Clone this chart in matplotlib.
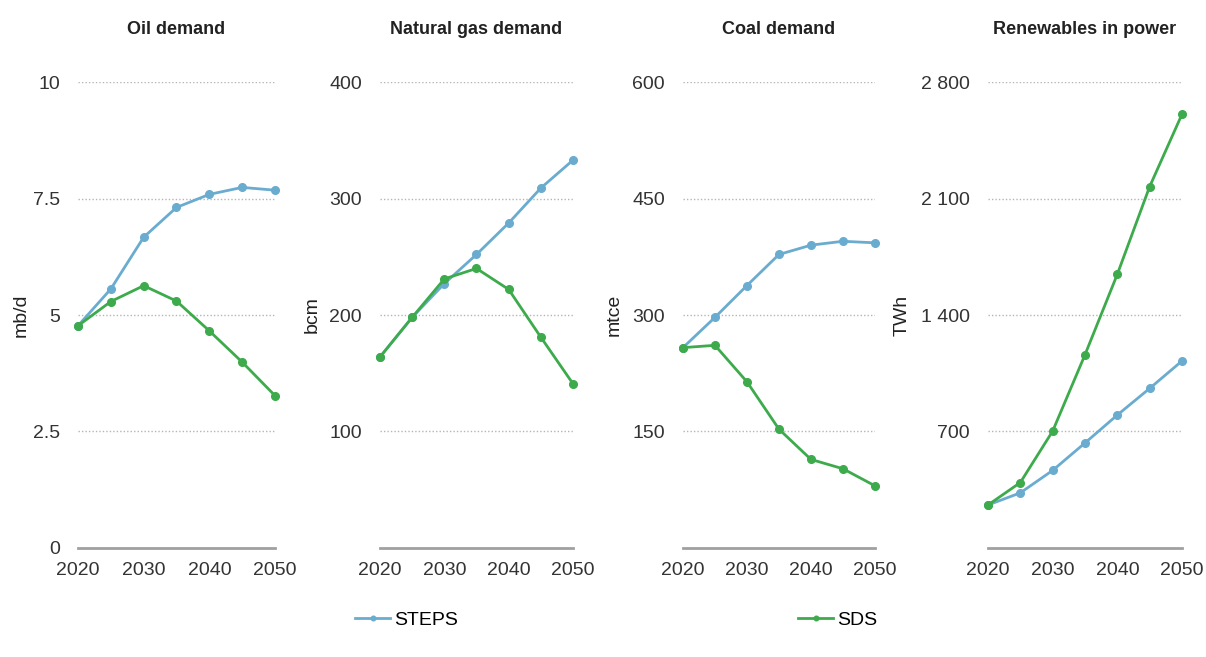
import matplotlib.pyplot as plt
from matplotlib.ticker import FuncFormatter

plt.rcParams.update({
    "font.family": ["Liberation Sans", "DejaVu Sans"],
    "font.size": 13,
})

# ============================================================
# Data
# ============================================================
years = [2020, 2025, 2030, 2035, 2040, 2045, 2050]

oil_steps = [4.77, 5.56, 6.67, 7.31, 7.59, 7.74, 7.68]
oil_sds = [4.77, 5.29, 5.63, 5.30, 4.66, 3.99, 3.27]

gas_steps = [164, 198, 227, 252, 279, 309, 333]
gas_sds = [164, 198, 231, 240, 222, 181, 141]

coal_steps = [258, 297, 338, 378, 390, 395, 393]
coal_sds = [258, 261, 214, 153, 114, 102, 80]

ren_steps = [258, 331, 466, 631, 799, 959, 1124]
ren_sds = [258, 393, 702, 1161, 1645, 2172, 2607]

titles = ["Oil demand", "Natural gas demand", "Coal demand", "Renewables in power"]
units = ["mb/d", "bcm", "mtce", "TWh"]
yticks = [[0, 2.5, 5, 7.5, 10], [100, 200, 300, 400], [150, 300, 450, 600], [700, 1400, 2100, 2800]]
ytops = [10, 400, 600, 2800]
steps_all = [oil_steps, gas_steps, coal_steps, ren_steps]
sds_all = [oil_sds, gas_sds, coal_sds, ren_sds]
xticks = [2020, 2030, 2040, 2050]

STEPS_COLOR = "#6aaccf"
SDS_COLOR = "#3dab4c"

# ============================================================
# Plot
# ============================================================
fig = plt.figure(figsize=(12.06, 6.57), dpi=100)

lefts = [0.0647, 0.3151, 0.5663, 0.8192]
widths = [0.1633, 0.1600, 0.1592, 0.1609]
ylab_x = [-0.244, -0.306, -0.3125, -0.397]


def thousands(v, pos):
    if v == int(v):
        return f"{int(v):,}".replace(",", " ")
    return f"{v:g}"


for i in range(4):
    ax = fig.add_axes([lefts[i], 0.166, widths[i], 0.709])
    ax.plot(years, steps_all[i], color=STEPS_COLOR, lw=2, marker="o", ms=5.5,
            clip_on=False, zorder=3, label="STEPS")
    ax.plot(years, sds_all[i], color=SDS_COLOR, lw=2, marker="o", ms=5.5,
            clip_on=False, zorder=4, label="SDS")

    ax.set_xlim(2020, 2050)
    ax.set_ylim(0, ytops[i])
    ax.set_xticks(xticks)
    ax.set_yticks(yticks[i])
    ax.yaxis.set_major_formatter(FuncFormatter(thousands))

    for t in yticks[i]:
        if t > 0:
            ax.axhline(t, color="#b5b5b5", lw=1, ls=(0, (1, 1.5)), zorder=1)

    for s in ["top", "right", "left"]:
        ax.spines[s].set_visible(False)
    ax.spines["bottom"].set_color("#a0a0a0")
    ax.spines["bottom"].set_linewidth(2)

    ax.tick_params(axis="both", length=0, labelsize=14, colors="#333333")
    ax.tick_params(axis="x", pad=10)
    ax.tick_params(axis="y", pad=13)

    ax.set_title(titles[i], fontsize=13, fontweight="bold", pad=35, color="#222222")
    ax.set_ylabel(units[i], fontsize=14, color="#222222")
    ax.yaxis.set_label_coords(ylab_x[i], 0.5)

handles, labels = ax.get_legend_handles_labels()
fig.legend(handles, labels, loc="center", bbox_to_anchor=(0.511, 0.056), ncol=2,
           frameon=False, fontsize=14, columnspacing=17.5, handlelength=1.8,
           handletextpad=0.2, markerscale=0.6)

plt.savefig("out.png", dpi=100)
